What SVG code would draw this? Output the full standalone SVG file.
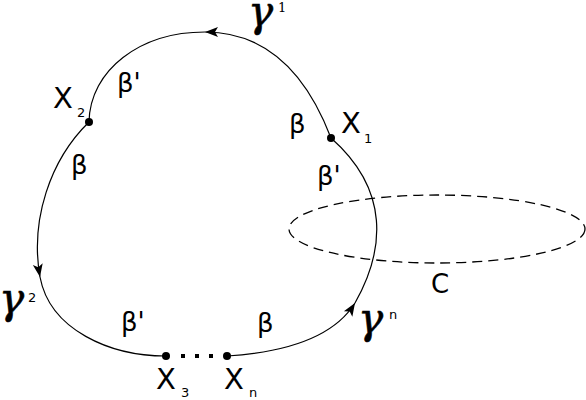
<svg xmlns="http://www.w3.org/2000/svg" width="586" height="400" viewBox="0 0 586 400">
<style>
.c{fill:none;stroke:#000;stroke-width:1.2}
.t{font-family:"DejaVu Sans",sans-serif;font-size:26px;fill:#000}
.x{font-family:"DejaVu Sans",sans-serif;font-size:29px;fill:#000}
.s{font-family:"DejaVu Sans",sans-serif;font-size:13px;fill:#000}
.g{font-family:"DejaVu Serif",serif;font-style:italic;font-size:42px;fill:#000;stroke:#000;stroke-width:0.6}
.gs{font-family:"DejaVu Serif",serif;font-size:13px;fill:#000}
</style>
<defs>
<marker id="a" markerUnits="userSpaceOnUse" markerWidth="16" markerHeight="12" viewBox="-14 -6 16 12" refX="0" refY="0" orient="auto">
<path d="M0,0 L-13,-5 L-10,0 L-13,5 Z" fill="#000"/>
</marker>
</defs>
<g id="connectors">
<path class="c" d="M331,138 C305,70 265,32 205,32" marker-end="url(#a)"/>
<path class="c" d="M205,32 C140,32 90,70 89,122"/>
<path class="c" d="M89,122 C50,160 30,220 40,277" marker-end="url(#a)"/>
<path class="c" d="M40,277 C50,330 110,356 166,356"/>
<path class="c" d="M227,356 C290,352 335,335 355,303" marker-end="url(#a)"/>
<path class="c" d="M355,303 C385,250 390,190 331,138"/>
</g>
<g id="C">
<ellipse cx="437" cy="229" rx="148" ry="34" fill="none" stroke="#000" stroke-width="1.3" stroke-dasharray="10,6"/>
<text class="t" x="431" y="293">C</text>
</g>
<g id="X1">
<circle cx="331" cy="138" r="4"/>
<text class="x" x="341" y="133">X</text><text class="s" x="364" y="143">1</text>
</g>
<g id="X2">
<circle cx="89" cy="122" r="4"/>
<text class="x" x="53" y="108">X</text><text class="s" x="77" y="117">2</text>
</g>
<g id="X3">
<circle cx="166" cy="356" r="4"/>
<text class="x" x="156" y="389">X</text><text class="s" x="181" y="397">3</text>
</g>
<g id="Xn">
<circle cx="227" cy="356" r="4"/>
<text class="x" x="224" y="389">X</text><text class="s" x="249" y="397">n</text>
</g>
<g id="dots">
<rect x="181" y="354" width="4" height="4"/>
<rect x="195" y="354" width="4" height="4"/>
<rect x="209" y="354" width="4" height="4"/>
</g>
<g id="labels">
<text class="t" x="117" y="92">β'</text>
<text class="t" x="71" y="174">β</text>
<text class="t" x="289" y="133">β</text>
<text class="t" x="317" y="185">β'</text>
<text class="t" x="121" y="331">β'</text>
<text class="t" x="257" y="332">β</text>
<text class="g" x="248" y="26">γ</text><text class="gs" x="278" y="12">1</text>
<text class="g" x="-1" y="313">γ</text><text class="s" x="28" y="302">2</text>
<text class="g" x="358" y="333">γ</text><text class="s" x="389" y="319">n</text>
</g>
</svg>
